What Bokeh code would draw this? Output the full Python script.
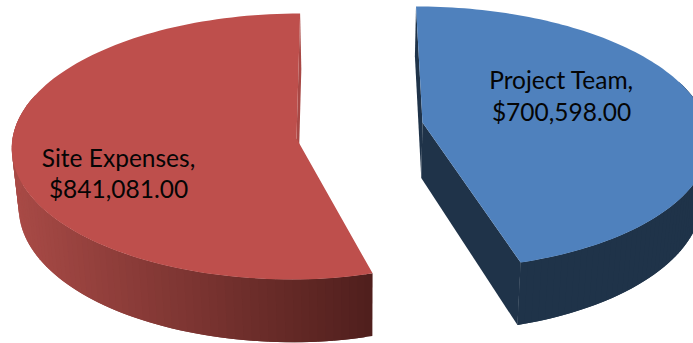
import numpy as np
from bokeh.core.properties import value
from bokeh.embed import file_html
from bokeh.models import ColumnDataSource
from bokeh.plotting import figure
from bokeh.resources import INLINE

categories = ["Project Team", "Site Expenses"]
amounts = [700598.00, 841081.00]

W, H = 693, 343
VANISH_X = 360.0
SQUEEZE = 0.98    # lower rim is slightly smaller than the upper one
total = sum(amounts)
sweeps = [a / total * 2 * np.pi for a in amounts]

# Screen placement of each exploded wedge: apex position and ellipse radii
wedges = {
    "Project Team": dict(start=0.0, sweep=sweeps[0], ox=62.0, cy=122.0, rx_left=284.0, rx_right=284.0,
                         ry=129.6, k=0.117, depth=55.5),
    "Site Expenses": dict(start=sweeps[0], sweep=sweeps[1], ox=-64.0, cy=138.0, rx_left=284.0, rx_right=267.0,
                          ry=132.5, k=0.06, depth=59.0),
}
face_colors = {"Project Team": "#4F81BD", "Site Expenses": "#BE4F4C"}
label_spots = {"Project Team": (561, 79, 111), "Site Expenses": (118, 157, 188)}


def project(g, theta, radius=1.0, lower=False):
    """Map a disc point (clockwise angle from twelve o'clock) to the page."""
    u, v = radius * np.sin(theta), radius * np.cos(theta)
    w = 1 + g["k"] * v
    x = VANISH_X + (g["ox"] + np.where(u < 0, g["rx_left"], g["rx_right"]) * u) / w
    y = g["cy"] - g["ry"] * v / w
    if lower:
        x = VANISH_X + SQUEEZE * (x - VANISH_X)
        y = y + g["depth"] / w
    return x, y


def blend(a, b, t):
    t = float(np.clip(t, 0, 1))
    c = [round(a[i] + (b[i] - a[i]) * t) for i in range(3)]
    return "#%02x%02x%02x" % tuple(c)


def radial_wall(g, edge):
    x0, y0 = project(g, edge, 0.0)
    x1, y1 = project(g, edge)
    x2, y2 = project(g, edge, 1.0, True)
    x3, y3 = project(g, edge, 0.0, True)
    return [float(x0), float(x1), float(x2), float(x3)], [float(y0), float(y1), float(y2), float(y3)]


p = figure(width=W, height=H, x_range=(0, W), y_range=(H, 0), toolbar_location=None,
           output_backend="svg", min_border=0, outline_line_color=None,
           background_fill_color="white", border_fill_color="white")
p.axis.visible = False
p.grid.visible = False

for name, amount in zip(categories, amounts):
    g = wedges[name]
    end = g["start"] + g["sweep"]
    thetas = np.linspace(g["start"], end, 121)
    xs, ys, fills = [], [], []

    # Cut faces that can be seen from the viewer's position
    if name == "Site Expenses":
        wx, wy = radial_wall(g, end)
        xs.append(wx); ys.append(wy); fills.append("#A84845")
    else:
        for edge in (g["start"], end):
            wx, wy = radial_wall(g, edge)
            xs.append(wx); ys.append(wy); fills.append("#1F3349")

    # Rim wall: overlapping narrow quads so that shading varies without seams
    for i in range(len(thetas) - 1):
        a, b = thetas[i], thetas[min(i + 2, len(thetas) - 1)]
        if np.cos(a) > 0.3 and np.cos(b) > 0.3:
            continue
        xa, ya = project(g, a)
        xb, yb = project(g, b)
        xc, yc = project(g, b, 1.0, True)
        xd, yd = project(g, a, 1.0, True)
        xs.append([float(xa), float(xb), float(xc), float(xd)])
        ys.append([float(ya), float(yb), float(yc), float(yd)])
        if name == "Site Expenses":
            fills.append(blend((168, 74, 70), (80, 31, 29), (float(xa) - 15) / 357))
        else:
            fills.append("#1F3349")
    p.patches("xs", "ys", fill_color="fills", line_color=None,
              source=ColumnDataSource(dict(xs=xs, ys=ys, fills=fills)))

    # Top face of the wedge
    fx, fy = project(g, thetas)
    ax, ay = project(g, g["start"], 0.0)
    p.patch(np.r_[ax, fx], np.r_[ay, fy], fill_color=face_colors[name], line_color=None)

for name, amount in zip(categories, amounts):
    lx, ly1, ly2 = label_spots[name]
    p.text([lx, lx], [ly1, ly2], text=[f"{name},", f"${amount:,.2f}"],
           text_font=value("Lato"), text_font_size="24.5px", text_color="#050505",
           text_align="center", text_baseline="middle")

open("out.html", "w").write(file_html(p, INLINE))
